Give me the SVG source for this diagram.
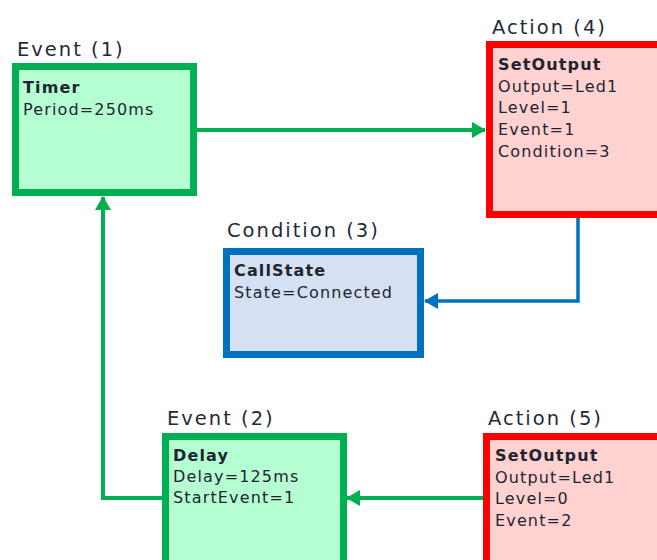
<svg xmlns="http://www.w3.org/2000/svg" width="657" height="560" viewBox="0 0 657 560">
<defs>
<style>
.title{font-family:"DejaVu Sans",Verdana,sans-serif;font-size:19.5px;fill:#1f2a3a;letter-spacing:2px}
.t{font-family:"DejaVu Sans",Verdana,sans-serif;font-size:16px;fill:#1f2430;letter-spacing:1.15px}
.b{font-weight:bold}
.ev{fill:#b5fed2;stroke:#00b050;stroke-width:7}
.ac{fill:#ffd2d2;stroke:#ff0000;stroke-width:7}
.cd{fill:#d5e1f2;stroke:#0070c0;stroke-width:7}
.g{fill:none;stroke:#00b050;stroke-width:4}
.bl{fill:none;stroke:#0070c0;stroke-width:3.5}
</style>
<marker id="ag" markerUnits="userSpaceOnUse" markerWidth="14" markerHeight="16" refX="13" refY="8" orient="auto"><path d="M0,0 L14,8 L0,16 z" fill="#00b050"/></marker>
<marker id="ab" markerUnits="userSpaceOnUse" markerWidth="14" markerHeight="16" refX="13" refY="8" orient="auto"><path d="M0,0 L14,8 L0,16 z" fill="#0070c0"/></marker>
</defs>
<rect width="657" height="560" fill="#ffffff"/>
<g id="connectors">
<path class="g" d="M197,130 H485" marker-end="url(#ag)"/>
<path class="bl" d="M578,218 V301 H425" marker-end="url(#ab)"/>
<path class="g" d="M483,498 H347" marker-end="url(#ag)"/>
<path class="g" d="M162,498 H103 V197" marker-end="url(#ag)"/>
</g>
<g id="event1">
<text class="title" x="17" y="56">Event (1)</text>
<rect class="ev" x="15.5" y="66.5" width="178" height="126"/>
<text class="t b" x="23" y="93">Timer</text>
<text class="t" x="23" y="115">Period=250ms</text>
</g>
<g id="action4">
<text class="title" x="492" y="34">Action (4)</text>
<rect class="ac" x="489.5" y="44.5" width="180" height="170"/>
<text class="t b" x="498" y="70">SetOutput</text>
<text class="t" x="498" y="92">Output=Led1</text>
<text class="t" x="498" y="113">Level=1</text>
<text class="t" x="498" y="135">Event=1</text>
<text class="t" x="498" y="157">Condition=3</text>
</g>
<g id="condition3">
<text class="title" x="227" y="237">Condition (3)</text>
<rect class="cd" x="226.5" y="251.5" width="194" height="103"/>
<text class="t b" x="234" y="276">CallState</text>
<text class="t" x="234" y="298">State=Connected</text>
</g>
<g id="event2">
<text class="title" x="167" y="425">Event (2)</text>
<rect class="ev" x="165.5" y="436.5" width="178" height="140"/>
<text class="t b" x="173" y="461">Delay</text>
<text class="t" x="173" y="482">Delay=125ms</text>
<text class="t" x="173" y="503">StartEvent=1</text>
</g>
<g id="action5">
<text class="title" x="488" y="425">Action (5)</text>
<rect class="ac" x="486.5" y="436.5" width="180" height="140"/>
<text class="t b" x="495" y="461">SetOutput</text>
<text class="t" x="495" y="483">Output=Led1</text>
<text class="t" x="495" y="504">Level=0</text>
<text class="t" x="495" y="526">Event=2</text>
</g>
</svg>
